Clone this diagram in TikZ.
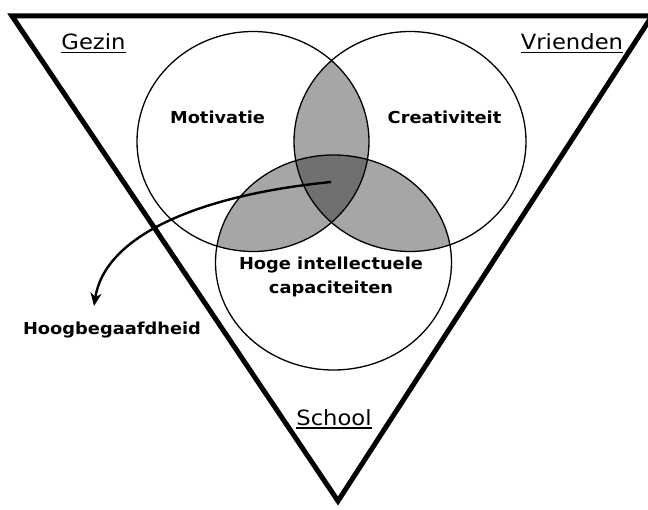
\documentclass[tikz,border=0pt]{standalone}
\usepackage{fontspec}
\newfontfamily\labfont[FakeStretch=1.08]{DejaVu Sans}
\usetikzlibrary{arrows.meta}
\definecolor{pairgray}{RGB}{166,166,166}
\definecolor{coregray}{RGB}{112,112,112}
\tikzset{
  heading/.style={font=\labfont\fontsize{21}{24}\selectfont, inner sep=0pt, anchor=base},
  label/.style={font=\labfont\bfseries\fontsize{16.5}{24}\selectfont, inner sep=0pt, anchor=base, align=center},
  ring/.style={draw=black, line width=1.3pt},
  frame/.style={draw=black, line width=5pt, line join=miter},
  uline/.style={draw=black, line width=1.6pt},
  pointer/.style={draw=black, line width=2.4pt, -{Stealth[length=13pt,width=11pt,inset=4pt]}}
}
\begin{document}
\begin{tikzpicture}[x=1pt,y=-1pt]
\useasboundingbox (0,0) rectangle (648,510);
\fill[white] (0,0) rectangle (648,510);
% circle centres
\coordinate (cM) at (253,141.5);
\coordinate (cC) at (410,141.5);
\coordinate (cH) at (333.5,262.5);
% pairwise intersections
\begin{scope}
  \clip (cM) ellipse [x radius=116, y radius=110];
  \fill[pairgray] (cC) ellipse [x radius=116, y radius=110];
  \fill[pairgray] (cH) ellipse [x radius=118, y radius=107.5];
\end{scope}
\begin{scope}
  \clip (cC) ellipse [x radius=116, y radius=110];
  \fill[pairgray] (cH) ellipse [x radius=118, y radius=107.5];
\end{scope}
\begin{scope}
  \clip (cM) ellipse [x radius=116, y radius=110];
  \clip (cC) ellipse [x radius=116, y radius=110];
  \fill[coregray] (cH) ellipse [x radius=118, y radius=107.5];
\end{scope}
\draw[ring] (cM) ellipse [x radius=116, y radius=110];
\draw[ring] (cC) ellipse [x radius=116, y radius=110];
\draw[ring] (cH) ellipse [x radius=118, y radius=107.5];
% triangle
\coordinate (tl) at (12,16);
\coordinate (tr) at (652,16);
\coordinate (tb) at (338,501);
\draw[frame] (tl) -- (tr) -- (tb) -- cycle;
% labels
\node[heading] (gezin) at (93.5,49.5) {Gezin};
\node[heading] (vrienden) at (572,49.5) {Vrienden};
\node[heading] (school) at (334,425) {School};
\draw[uline] ([yshift=-3pt]gezin.base west) -- ([yshift=-3pt]gezin.base east);
\draw[uline] ([yshift=-3pt]vrienden.base west) -- ([yshift=-3pt]vrienden.base east);
\draw[uline] ([yshift=-3pt]school.base west) -- ([yshift=-3pt]school.base east);
\node[label] (motivatie) at (217.5,124) {Motivatie};
\node[label] (creativiteit) at (444.5,124) {Creativiteit};
\node[label] (hoge) at (331,294) {Hoge intellectuele\\capaciteiten};
\node[label] (hoog) at (112,335) {Hoogbegaafdheid};
% arrow
\coordinate (core) at (331,182);
\coordinate (tip) at (94,306);
\draw[pointer] (core) .. controls (200,195) and (105,235) .. (tip);
\end{tikzpicture}
\end{document}
